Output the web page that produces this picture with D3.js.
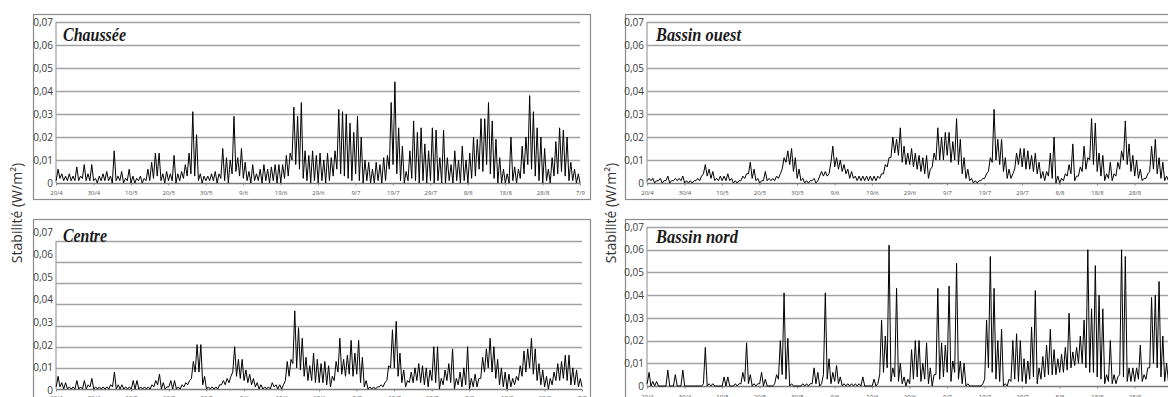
<!DOCTYPE html>
<html><head><meta charset="utf-8">
<script src="https://cdn.jsdelivr.net/npm/d3@7/dist/d3.min.js"></script>
<style>body{margin:0;background:#fff}svg{display:block}</style>
</head><body><svg id="c" width="1168" height="397"></svg>
<script>
// ---------- data ----------
const seriesNames = ["Chaussée", "Centre", "Bassin ouest", "Bassin nord"];
const xTickLabels = ["20/4","30/4","10/5","20/5","30/5","9/6","19/6","29/6","9/7","19/7","29/7","8/8","18/8","28/8","7/9"];
const xTickDays = [0,10,20,30,40,50,60,70,80,90,100,110,120,130,140];
const yTickValues = [0,0.01,0.02,0.03,0.04,0.05,0.06,0.07];
const yTickLabels = ["0","0,01","0,02","0,03","0,04","0,05","0,06","0,07"];
const axisTitle = "Stabilité (W/m²)";

// daily peak values (20/4 .. 6/9)
const chausseePeaks = [
0.006,0.004,0.003,0.004,0.003,0.007,0.003,0.008,0.004,0.008,
0.002,0.003,0.004,0.005,0.003,0.014,0.003,0.005,0.002,0.006,
0.003,0.002,0.003,0.002,0.006,0.009,0.013,0.013,0.004,0.005,
0.004,0.012,0.004,0.005,0.008,0.013,0.031,0.021,0.004,0.003,
0.003,0.004,0.005,0.004,0.015,0.011,0.010,0.029,0.011,0.015,
0.009,0.005,0.008,0.004,0.006,0.008,0.006,0.007,0.008,0.008,
0.008,0.012,0.013,0.033,0.029,0.035,0.014,0.012,0.014,0.012,
0.013,0.010,0.013,0.011,0.014,0.032,0.031,0.030,0.026,0.022,
0.029,0.020,0.010,0.009,0.006,0.009,0.008,0.011,0.012,0.035,
0.044,0.024,0.016,0.005,0.014,0.027,0.022,0.024,0.017,0.014,
0.024,0.023,0.011,0.023,0.011,0.008,0.014,0.010,0.016,0.010,
0.013,0.020,0.019,0.028,0.028,0.035,0.027,0.019,0.011,0.006,
0.004,0.020,0.007,0.006,0.016,0.020,0.038,0.031,0.024,0.020,
0.015,0.006,0.011,0.018,0.024,0.023,0.020,0.009,0.006,0.004];
const chausseeTroughs = [
0.001,0.002,0.001,0.001,0.001,0.001,0.001,0.002,0.001,0.001,
0.001,0.000,0.001,0.001,0.001,0.000,0.001,0.001,0.000,0.001,
0.000,0.000,0.001,0.000,0.001,0.001,0.002,0.003,0.001,0.000,
0.001,0.001,0.000,0.001,0.002,0.003,0.004,0.003,0.001,0.000,
0.001,0.001,0.001,0.000,0.002,0.001,0.000,0.004,0.005,0.003,
0.002,0.001,0.000,0.001,0.001,0.000,0.001,0.000,0.001,0.000,
0.000,0.002,0.003,0.010,0.008,0.006,0.002,0.001,0.000,0.001,
0.000,0.001,0.000,0.001,0.003,0.006,0.004,0.003,0.002,0.001,
0.004,0.001,0.000,0.001,0.000,0.000,0.001,0.000,0.001,0.006,
0.008,0.004,0.001,0.000,0.001,0.002,0.001,0.000,0.001,0.000,
0.001,0.000,0.001,0.000,0.000,0.001,0.000,0.001,0.000,0.001,
0.000,0.002,0.003,0.006,0.005,0.008,0.004,0.002,0.000,0.000,
0.000,0.000,0.001,0.000,0.002,0.004,0.008,0.006,0.003,0.001,
0.000,0.001,0.000,0.003,0.004,0.005,0.003,0.001,0.001,0.000];

const centrePeaks = [
0.006,0.003,0.003,0.001,0.001,0.004,0.001,0.004,0.002,0.005,
0.001,0.001,0.001,0.001,0.002,0.008,0.002,0.002,0.001,0.001,
0.004,0.004,0.001,0.001,0.001,0.002,0.004,0.007,0.003,0.001,
0.004,0.004,0.001,0.002,0.003,0.004,0.013,0.021,0.021,0.006,
0.001,0.001,0.001,0.002,0.004,0.005,0.006,0.020,0.014,0.014,
0.009,0.007,0.005,0.003,0.002,0.001,0.001,0.003,0.002,0.002,
0.002,0.013,0.014,0.037,0.029,0.024,0.015,0.011,0.017,0.014,
0.012,0.013,0.011,0.006,0.013,0.024,0.014,0.016,0.023,0.017,
0.023,0.015,0.004,0.001,0.001,0.001,0.002,0.003,0.011,0.028,
0.032,0.017,0.009,0.004,0.008,0.010,0.012,0.011,0.010,0.009,
0.020,0.020,0.005,0.009,0.012,0.019,0.005,0.008,0.010,0.020,
0.005,0.007,0.005,0.015,0.019,0.024,0.020,0.014,0.010,0.008,
0.007,0.005,0.006,0.011,0.018,0.019,0.024,0.019,0.012,0.009,
0.006,0.005,0.008,0.012,0.013,0.016,0.016,0.010,0.009,0.005];
const centreTroughs = [
0.001,0.001,0.000,0.000,0.000,0.000,0.000,0.000,0.000,0.001,
0.000,0.000,0.000,0.000,0.000,0.001,0.000,0.000,0.000,0.000,
0.000,0.000,0.000,0.000,0.000,0.000,0.001,0.002,0.000,0.000,
0.001,0.000,0.000,0.000,0.001,0.002,0.005,0.008,0.008,0.002,
0.000,0.000,0.000,0.000,0.002,0.002,0.003,0.008,0.006,0.005,
0.004,0.003,0.002,0.001,0.000,0.000,0.000,0.000,0.001,0.000,
0.000,0.004,0.006,0.012,0.010,0.009,0.006,0.004,0.004,0.003,
0.003,0.003,0.002,0.001,0.004,0.008,0.007,0.006,0.007,0.006,
0.007,0.003,0.001,0.000,0.000,0.000,0.001,0.001,0.004,0.010,
0.010,0.006,0.003,0.001,0.003,0.003,0.004,0.003,0.002,0.001,
0.004,0.003,0.000,0.002,0.004,0.003,0.000,0.002,0.001,0.002,
0.000,0.001,0.001,0.005,0.008,0.010,0.008,0.005,0.002,0.001,
0.000,0.001,0.002,0.004,0.006,0.008,0.010,0.007,0.004,0.002,
0.001,0.000,0.002,0.004,0.004,0.005,0.004,0.002,0.002,0.001];

const ouestPeaks = [
0.002,0.002,0.001,0.002,0.001,0.003,0.001,0.002,0.002,0.003,
0.001,0.001,0.001,0.002,0.003,0.008,0.006,0.005,0.002,0.003,
0.003,0.004,0.002,0.001,0.001,0.003,0.004,0.009,0.006,0.002,
0.001,0.005,0.002,0.002,0.003,0.004,0.011,0.014,0.015,0.011,
0.006,0.002,0.001,0.001,0.002,0.001,0.005,0.005,0.004,0.016,
0.011,0.010,0.008,0.006,0.005,0.003,0.003,0.003,0.003,0.003,
0.003,0.003,0.004,0.008,0.011,0.020,0.019,0.024,0.016,0.013,
0.015,0.013,0.012,0.011,0.012,0.006,0.013,0.024,0.020,0.022,
0.022,0.018,0.028,0.019,0.011,0.006,0.002,0.001,0.001,0.002,
0.004,0.011,0.032,0.019,0.019,0.011,0.006,0.004,0.013,0.015,
0.015,0.014,0.012,0.013,0.009,0.005,0.005,0.013,0.020,0.003,
0.002,0.004,0.008,0.017,0.003,0.007,0.016,0.011,0.028,0.026,
0.013,0.012,0.004,0.009,0.004,0.009,0.014,0.027,0.017,0.012,
0.010,0.006,0.002,0.004,0.016,0.019,0.011,0.009,0.003,0.002];
const ouestTroughs = [
0.001,0.001,0.000,0.001,0.000,0.001,0.000,0.001,0.001,0.001,
0.000,0.000,0.000,0.001,0.001,0.004,0.003,0.002,0.001,0.001,
0.001,0.001,0.001,0.000,0.000,0.001,0.002,0.004,0.002,0.001,
0.000,0.001,0.001,0.001,0.001,0.002,0.006,0.009,0.008,0.005,
0.002,0.001,0.000,0.000,0.001,0.000,0.003,0.003,0.003,0.009,
0.007,0.006,0.005,0.004,0.002,0.002,0.001,0.001,0.001,0.001,
0.001,0.001,0.002,0.004,0.007,0.011,0.013,0.012,0.009,0.008,
0.008,0.007,0.006,0.005,0.004,0.002,0.007,0.010,0.010,0.010,
0.012,0.009,0.010,0.008,0.004,0.002,0.001,0.000,0.000,0.001,
0.002,0.005,0.009,0.010,0.008,0.005,0.002,0.002,0.006,0.008,
0.007,0.006,0.006,0.005,0.004,0.002,0.001,0.003,0.002,0.000,
0.000,0.001,0.003,0.004,0.001,0.003,0.005,0.006,0.010,0.008,
0.005,0.003,0.001,0.002,0.001,0.003,0.006,0.010,0.008,0.005,
0.003,0.002,0.001,0.002,0.005,0.006,0.004,0.002,0.001,0.001];

const nordPeaks = [
0.006,0.002,0.002,0.000,0.000,0.007,0.000,0.005,0.000,0.007,
0.000,0.000,0.000,0.000,0.000,0.017,0.001,0.001,0.000,0.000,
0.004,0.004,0.000,0.001,0.001,0.006,0.019,0.005,0.001,0.001,
0.006,0.003,0.000,0.000,0.005,0.020,0.041,0.021,0.001,0.000,
0.000,0.001,0.001,0.001,0.008,0.006,0.001,0.041,0.012,0.006,
0.009,0.004,0.001,0.001,0.001,0.001,0.001,0.004,0.000,0.000,
0.003,0.001,0.029,0.022,0.062,0.008,0.043,0.010,0.004,0.003,
0.016,0.020,0.020,0.010,0.019,0.008,0.005,0.043,0.019,0.018,
0.044,0.011,0.054,0.011,0.010,0.001,0.000,0.000,0.000,0.001,
0.029,0.057,0.043,0.020,0.025,0.001,0.003,0.020,0.023,0.020,
0.012,0.011,0.026,0.042,0.008,0.013,0.018,0.025,0.016,0.012,
0.014,0.017,0.032,0.015,0.017,0.022,0.029,0.060,0.034,0.053,
0.040,0.034,0.005,0.020,0.005,0.004,0.060,0.057,0.008,0.008,
0.008,0.018,0.005,0.008,0.039,0.040,0.046,0.022,0.010,0.021];
const nordTroughs = [
0.001,0,0,0,0,0,0,0,0,0,
0,0,0,0,0,0.001,0,0,0,0,
0,0,0,0,0,0.001,0.002,0.001,0,0,
0.001,0,0,0,0.001,0.003,0.005,0.003,0,0,
0,0,0,0,0.001,0.001,0,0.005,0.003,0.001,
0.002,0.001,0,0,0,0,0,0,0,0,
0,0,0.005,0.006,0.008,0.002,0.004,0.002,0.001,0,
0.001,0.003,0.004,0.002,0.003,0.001,0,0.005,0.003,0.004,
0.006,0.002,0.006,0.003,0.001,0,0,0,0,0,
0.003,0.008,0.006,0.003,0.002,0,0,0.002,0.003,0.002,
0.002,0.001,0.003,0.004,0.001,0.003,0.004,0.005,0.005,0.005,
0.006,0.006,0.007,0.008,0.009,0.010,0.010,0.008,0.006,0.006,
0.004,0.003,0.001,0.002,0.001,0.001,0.005,0.004,0.002,0.002,
0.002,0.003,0.002,0.003,0.008,0.010,0.008,0.004,0.002,0.002];

const seriesPeaks = [chausseePeaks, centrePeaks, ouestPeaks, nordPeaks];
const seriesTroughs = [chausseeTroughs, centreTroughs, ouestTroughs, nordTroughs];

// ---------- layout ----------
const layout = [
  {fx:33, fy:14, fw:557, fh:185, x0:56, x1:580, yTop:22, yZero:183, lTop:22, lZero:183, xl:194, tx:63, ty:41, tl:63},
  {fx:33, fy:219, fw:557, fh:200, x0:56, x1:582, yTop:241, yZero:389, lTop:232, lZero:390, xl:399, tx:63, ty:242, tl:44},
  {fx:625, fy:14, fw:600, fh:185, x0:647, x1:1172, yTop:22, yZero:183, lTop:22, lZero:183, xl:194, tx:656, ty:41, tl:85},
  {fx:625, fy:219, fw:600, fh:200, x0:647, x1:1172, yTop:227, yZero:386, lTop:227, lZero:386, xl:398, tx:656, ty:243, tl:82}
];

const svg = d3.select("#c");
svg.append("rect").attr("width",1168).attr("height",397).attr("fill","#fff");

seriesNames.forEach((name, i) => {
  const L = layout[i];
  const g = svg.append("g");
  const x = d3.scaleLinear().domain([0,140]).range([L.x0, L.x1]);
  const y = d3.scaleLinear().domain([0,0.07]).range([L.yZero, L.yTop]);
  const yl = d3.scaleLinear().domain([0,0.07]).range([L.lZero, L.lTop]);

  // frame
  g.append("rect").attr("x",L.fx+0.5).attr("y",L.fy+0.5).attr("width",L.fw).attr("height",L.fh)
    .attr("fill","none").attr("stroke","#8c8c8c").attr("stroke-width",1.2);

  // left plot edge
  g.append("line").attr("x1",L.x0).attr("x2",L.x0).attr("y1",y(0.07)).attr("y2",y(0))
    .attr("stroke","#c4c4c4").attr("stroke-width",2);

  // gridlines
  g.selectAll(".grid").data(yTickValues).join("line")
    .attr("x1",L.x0).attr("x2",L.x1)
    .attr("y1",d=>Math.round(y(d))+0.5).attr("y2",d=>Math.round(y(d))+0.5)
    .attr("stroke",(d)=> d===0 ? "#7a7a7a" : "#a2a2a2").attr("stroke-width",1.5);

  // y labels
  const ya = d3.axisLeft(yl).tickValues(yTickValues).tickFormat((d,k)=>yTickLabels[k]).tickSize(0).tickPadding(0);
  const yg = g.append("g").attr("transform",`translate(${L.x0-3},0)`).call(ya);
  yg.select(".domain").remove();
  yg.selectAll("text").attr("font-family","'Open Sans', 'Noto Sans', sans-serif").attr("font-size","10px").attr("fill","#3a3a3a");

  // x axis
  const xa = d3.axisBottom(x).tickValues(xTickDays).tickFormat((d,k)=>xTickLabels[k]).tickSize(2).tickPadding(2);
  const xg = g.append("g").attr("transform",`translate(0,${Math.round(y(0))+0.5})`).call(xa);
  xg.select(".domain").remove();
  xg.selectAll("line").attr("stroke","#888");
  xg.selectAll("text").attr("font-family","'Open Sans', 'Noto Sans', sans-serif").attr("font-size","6px").attr("fill","#555")
    .attr("y", L.xl - Math.round(y(0))).attr("dy","0");

  // series line
  const pk = seriesPeaks[i], tr = seriesTroughs[i];
  const pts = [];
  pk.forEach((v, d) => { pts.push([d + 0.05, tr[d]]); pts.push([d + 0.55, v]); });
  pts.push([140, tr[tr.length-1]]);
  const line = d3.line().x(p=>x(p[0])).y(p=>y(p[1]));
  g.append("path").datum(pts).attr("d",line).attr("fill","none")
    .attr("stroke","#000").attr("stroke-width",1).attr("stroke-linejoin","miter");

  // title
  g.append("text").attr("x",L.tx).attr("y",L.ty).text(name)
    .attr("font-family","'Liberation Serif', 'DejaVu Serif', serif").attr("font-style","italic").attr("font-weight","bold")
    .attr("font-size","18px").attr("fill","#1a1a1a")
    .attr("textLength",L.tl).attr("lengthAdjust","spacingAndGlyphs");
});

// axis titles
[[17,213],[611,213]].forEach(p => {
  svg.append("text").attr("transform",`translate(${p[0]},${p[1]}) rotate(-90)`)
    .attr("text-anchor","middle").attr("dy","0.35em")
    .attr("font-family","'Open Sans', 'Noto Sans', sans-serif").attr("font-size","14px").attr("fill","#333")
    .text(axisTitle);
});
</script></body></html>
